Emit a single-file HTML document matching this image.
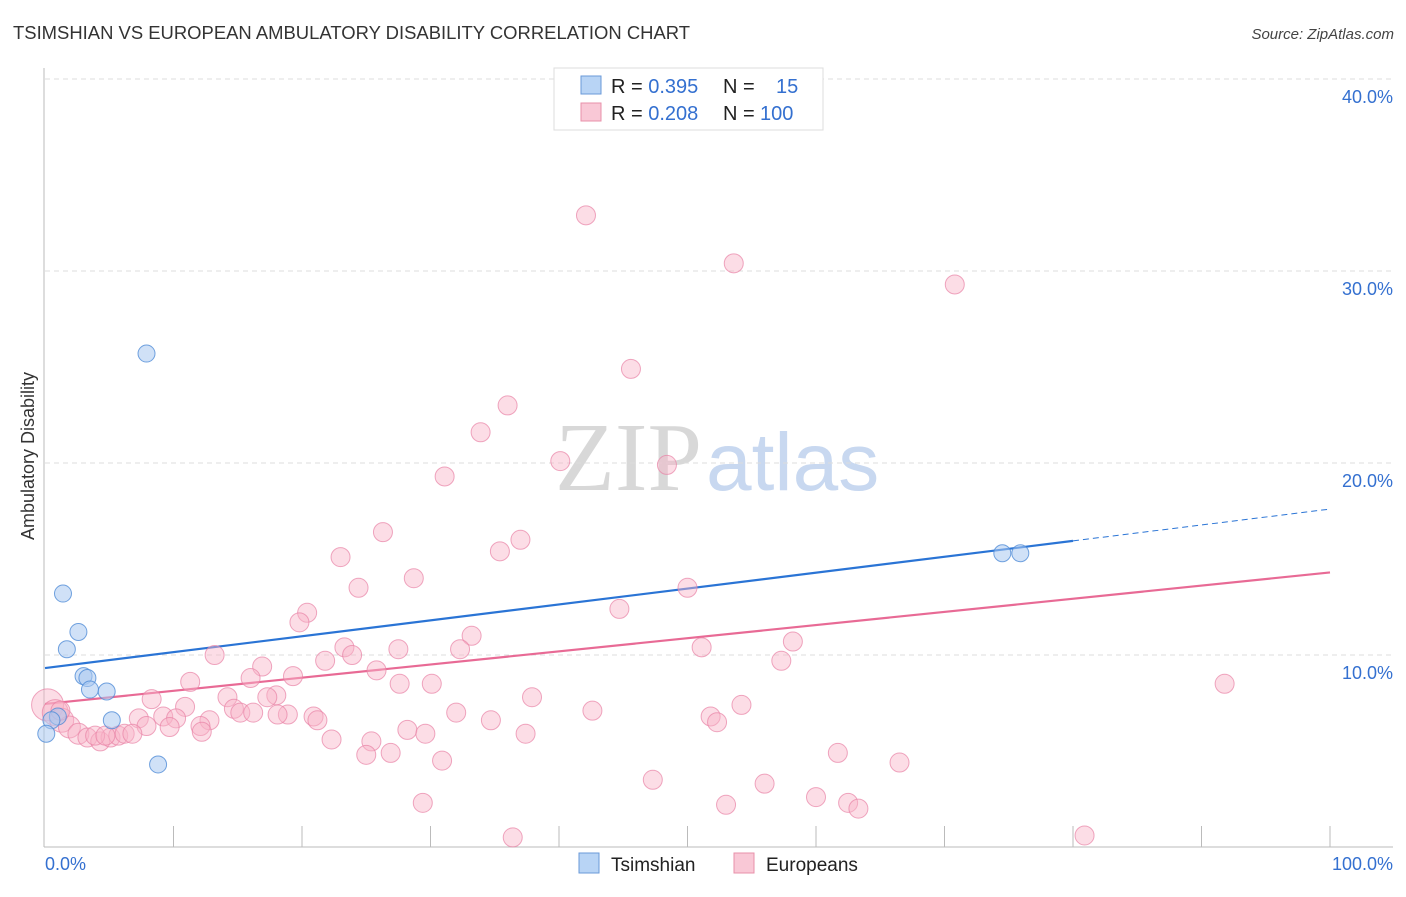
<!DOCTYPE html>
<html><head><meta charset="utf-8"><style>
body{margin:0;background:#fff;font-family:"Liberation Sans",sans-serif}
</style></head><body>
<svg id="chart" width="1406" height="892" xmlns="http://www.w3.org/2000/svg" font-family="Liberation Sans, sans-serif">
<text x="13" y="39" font-size="18" fill="#333" textLength="677" lengthAdjust="spacingAndGlyphs">TSIMSHIAN VS EUROPEAN AMBULATORY DISABILITY CORRELATION CHART</text>
<text x="1394" y="39" font-size="15" fill="#444" text-anchor="end" font-style="italic">Source: ZipAtlas.com</text>
<text x="555" y="490" font-size="98"><tspan fill="#d8d8d8" font-family="Liberation Serif, serif">ZIP</tspan><tspan fill="#c8d8f0" font-size="82" dx="4">atlas</tspan></text>
<text transform="translate(34,456) rotate(-90)" font-size="18" fill="#333" text-anchor="middle">Ambulatory Disability</text>
<g id="grid"></g><g id="axes"></g><g id="lines"></g><g id="pts"></g>
<g>
<rect x="554" y="68" width="269" height="62" fill="#fff" stroke="#ddd"/>
<rect x="581" y="76" width="20" height="18" fill="#b8d4f5" stroke="#6a9ad8"/>
<rect x="581" y="103" width="20" height="18" fill="#f9c8d6" stroke="#e890aa"/>
<text x="611" y="93" font-size="20" fill="#222">R = <tspan fill="#3470d0">0.395</tspan><tspan x="723">N =</tspan><tspan x="776" fill="#3470d0">15</tspan></text>
<text x="611" y="120" font-size="20" fill="#222">R = <tspan fill="#3470d0">0.208</tspan><tspan x="723">N =</tspan><tspan x="760" fill="#3470d0">100</tspan></text>
</g>
<g>
<rect x="579" y="853" width="20" height="20" fill="#b8d4f5" stroke="#6a9ad8"/>
<text x="611" y="871" font-size="19" fill="#222">Tsimshian</text>
<rect x="734" y="853" width="20" height="20" fill="#f9c8d6" stroke="#e890aa"/>
<text x="766" y="871" font-size="19" fill="#222">Europeans</text>
</g>
</svg>
<script>
const yTicks=[10,20,30,40];
const xTickLabels=["0.0%","100.0%"];
const blueX=[7.9,1.4,2.6,1.7,3.0,3.3,3.5,4.8,5.2,1.0,0.5,0.1,8.8,74.5,75.9];
const blueY=[25.7,13.2,11.2,10.3,8.9,8.8,8.2,8.1,6.6,6.8,6.6,5.9,4.3,15.3,15.3];
const pinkX=[42.1,53.6,70.8,45.6,36.0,33.9,40.1,48.4,31.1,26.3,37.0,35.4,23.0,28.7,24.4,50.0,20.4,44.7,19.8,33.2,58.2,23.3,27.5,32.3,23.9,13.2,51.1,21.8,16.9,57.3,25.8,19.3,11.3,16.0,91.8,27.6,30.1,18.0,8.3,37.9,14.2,17.3,10.9,54.2,14.7,42.6,32.0,15.2,16.2,18.9,18.1,20.9,21.2,34.7,51.8,7.3,9.2,10.2,12.8,52.3,28.2,12.1,7.9,9.7,37.4,29.6,12.2,22.3,25.4,25.0,26.9,61.7,30.9,66.5,47.3,56.0,60.0,29.4,53.0,62.5,63.3,36.4,80.9,0.2,0.8,1.3,1.9,2.6,3.3,4.3,5.1,5.7,6.2,6.8,3.9,1.2,4.7];
const pinkY=[32.9,30.4,29.3,24.9,23.0,21.6,20.1,19.9,19.3,16.4,16.0,15.4,15.1,14.0,13.5,13.5,12.2,12.4,11.7,11.0,10.7,10.4,10.3,10.3,10.0,10.0,10.4,9.7,9.4,9.7,9.2,8.9,8.6,8.8,8.5,8.5,8.5,7.9,7.7,7.8,7.8,7.8,7.3,7.4,7.2,7.1,7.0,7.0,7.0,6.9,6.9,6.8,6.6,6.6,6.8,6.7,6.8,6.7,6.6,6.5,6.1,6.3,6.3,6.25,5.9,5.9,6.0,5.6,5.5,4.8,4.9,4.9,4.5,4.4,3.5,3.3,2.6,2.3,2.2,2.3,2.0,0.5,0.6,7.4,7.0,6.6,6.25,5.9,5.7,5.5,5.7,5.8,5.9,5.9,5.8,7.1,5.8];
const pinkR=[];for(let i=0;i<pinkX.length;i++)pinkR.push(9.5);
pinkR[83]=16;pinkR[84]=13;pinkR[85]=12;pinkR[86]=11;pinkR[87]=10.5;
const blueTrend=[9.32,17.6];const blueSolidEnd=80;
const pinkTrend=[7.45,14.3];
const X=v=>45+v*12.85, Y=v=>847-v*19.2;
const NS="http://www.w3.org/2000/svg";
function mk(t,a,p){const e=document.createElementNS(NS,t);for(const k in a)e.setAttribute(k,a[k]);document.getElementById(p).appendChild(e);return e;}
yTicks.forEach(t=>{
const l=mk('line',{x1:45,x2:1393,y1:Y(t),y2:Y(t),stroke:'#ddd','stroke-dasharray':'5,4'},'grid');


const tx=mk('text',{x:1393,y:Y(t)+24,'font-size':18,fill:'#3470d0','text-anchor':'end'},'axes');


tx.textContent=t.toFixed(1)+'%';
});
let a=mk('line',{x1:44,x2:44,y1:68,y2:847,stroke:'#bbb'},'axes');


a=mk('line',{x1:44,x2:1393,y1:847,y2:847,stroke:'#bbb'},'axes');


for(let i=1;i<=10;i++){const t=mk('line',{x1:X(i*10),x2:X(i*10),y1:826,y2:847,stroke:'#bbb'},'axes');

}
[[0,'start',45],[1,'end',1393]].forEach(([i,an,x])=>{const t=mk('text',{x:x,y:870,'font-size':18,fill:'#3470d0','text-anchor':an},'axes');


t.textContent=xTickLabels[i];});
const by=v=>blueTrend[0]+(blueTrend[1]-blueTrend[0])*v/100;
let l=mk('line',{x1:X(0),y1:Y(by(0)),x2:X(blueSolidEnd),y2:Y(by(blueSolidEnd)),stroke:'#2a74d5','stroke-width':2.2},'lines');


l=mk('line',{x1:X(blueSolidEnd),y1:Y(by(blueSolidEnd)),x2:X(100),y2:Y(by(100)),stroke:'#2a74d5','stroke-width':1,'stroke-dasharray':'6,4'},'lines');


l=mk('line',{x1:X(0),y1:Y(pinkTrend[0]),x2:X(100),y2:Y(pinkTrend[1]),stroke:'#e86a95','stroke-width':2.2},'lines');


pinkX.forEach((x,i)=>{const c=mk('circle',{cx:X(x),cy:Y(pinkY[i]),r:pinkR[i],fill:'rgba(248,180,200,0.45)',stroke:'rgba(232,130,165,0.7)','stroke-width':1},'pts');

});
blueX.forEach((x,i)=>{const c=mk('circle',{cx:X(x),cy:Y(blueY[i]),r:8.5,fill:'rgba(170,200,240,0.55)',stroke:'rgba(80,140,215,0.8)','stroke-width':1},'pts');

});
</script>
</body></html>
